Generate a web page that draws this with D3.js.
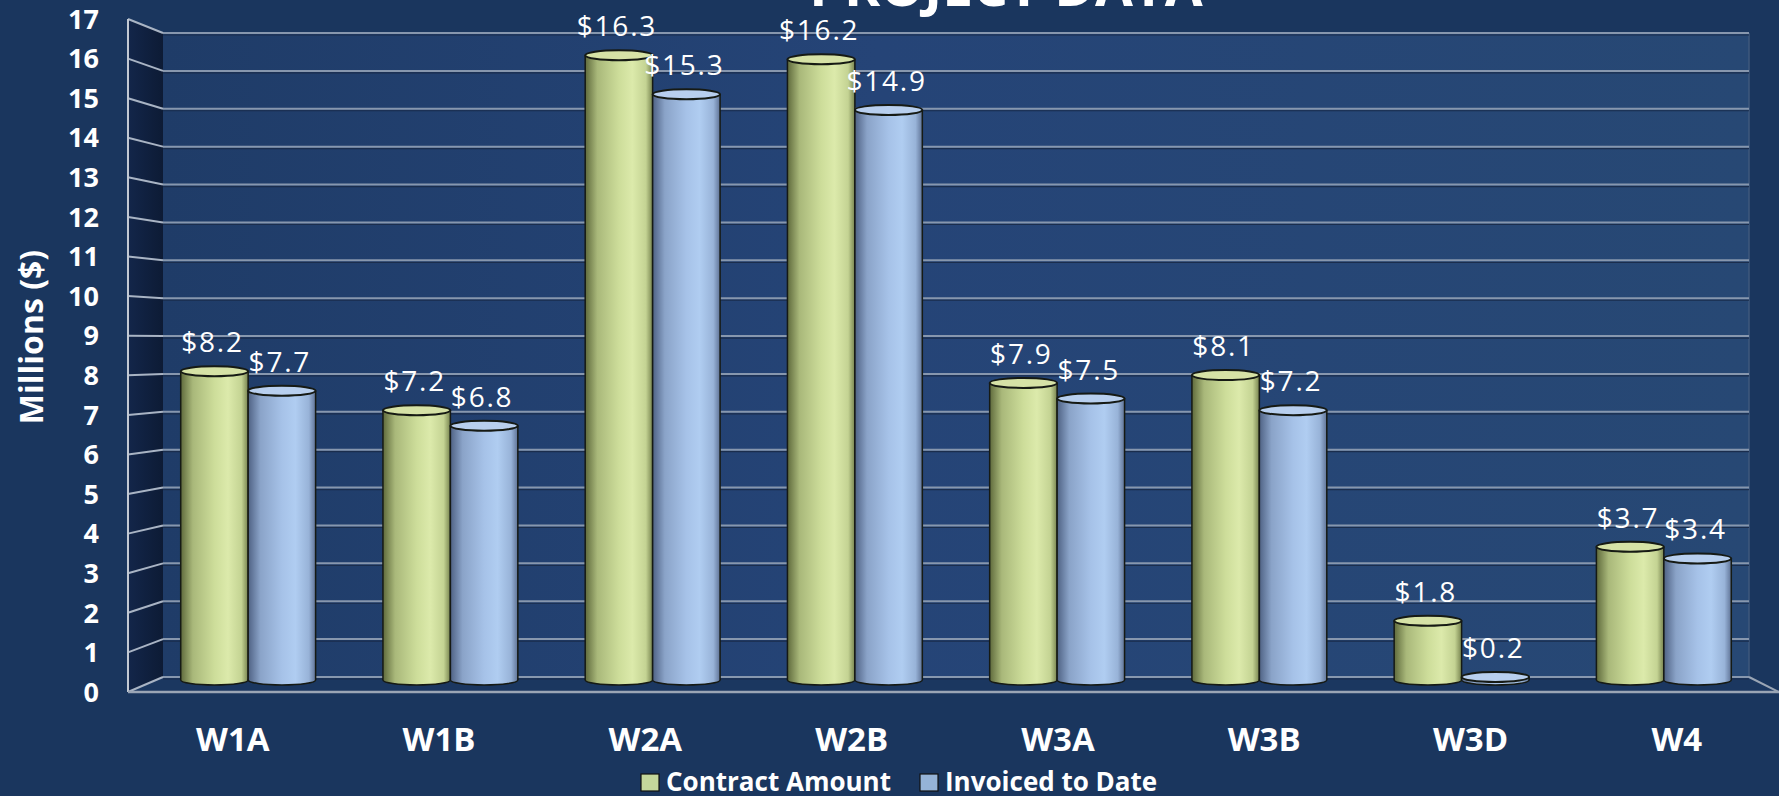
<!DOCTYPE html>
<html>
<head>
<meta charset="utf-8">
<script src="https://cdn.jsdelivr.net/npm/d3@7"></script>
<style>
  html, body { margin: 0; padding: 0; background: #1a365e; }
  svg { display: block; }
  text { font-family: "Open Sans", "Noto Sans", sans-serif; fill: #ffffff; }
</style>
</head>
<body>
<svg id="chart" width="1779" height="796"></svg>
<script>
// data
const categories = ["W1A", "W1B", "W2A", "W2B", "W3A", "W3B", "W3D", "W4"];
const contractAmount = [8.2, 7.2, 16.3, 16.2, 7.9, 8.1, 1.8, 3.7];
const invoicedToDate = [7.7, 6.8, 15.3, 14.9, 7.5, 7.2, 0.2, 3.4];
const seriesNames = ["Contract Amount", "Invoiced to Date"];
const yTicks = d3.range(0, 18);

const width = 1779, height = 796;
const svg = d3.select("#chart");

// 3d box: back wall, left wall, floor
const wall = {left: 163, right: 1749};
const front = {left: 128, right: 1779};

const yBack = d3.scaleLinear().domain([0, 17]).range([677, 33]);
const yFront = d3.scaleLinear().domain([0, 17]).range([692, 19]);
const yBar = d3.scaleLinear().domain([0, 17]).range([686, 23]);   // top edge of cylinders
const barBottom = 680, ry = 5;

const x0 = d3.scaleBand().domain(categories)
  .range([147, 1765]).paddingInner(0.333).paddingOuter(0.1667);
const x1 = d3.scaleBand().domain([0, 1]).range([0, x0.bandwidth()]);

// perspective used for the labels on the front edge
const vx = 1017, k = 1.02;
const frontX = d => vx + (d - vx) * k;

const defs = svg.append("defs");

const wallGrad = defs.append("linearGradient").attr("id", "wallGrad");
wallGrad.append("stop").attr("offset", "0%").attr("stop-color", "#1f3c68");
wallGrad.append("stop").attr("offset", "45%").attr("stop-color", "#254477");
wallGrad.append("stop").attr("offset", "100%").attr("stop-color", "#274874");

const sideGrad = defs.append("linearGradient").attr("id", "sideGrad");
sideGrad.append("stop").attr("offset", "0%").attr("stop-color", "#13264a");
sideGrad.append("stop").attr("offset", "100%").attr("stop-color", "#0d1b35");

const barColors = [
  {id: "g0", stops: ["#5f6a3c", "#a9b87a", "#cddd9a", "#dceaab", "#c4d393", "#77834f"], top: "#d6e2a6", legend: "#c4d79b"},
  {id: "g1", stops: ["#4f6284", "#8aa3c8", "#a6c2e8", "#b0cdf1", "#98b3d8", "#5f7396"], top: "#b8cfee", legend: "#95b3d7"}
];
barColors.forEach(c => {
  const g = defs.append("linearGradient").attr("id", c.id);
  const offs = [0, 0.18, 0.5, 0.7, 0.9, 1];
  c.stops.forEach((s, i) => g.append("stop").attr("offset", offs[i]).attr("stop-color", s));
});

// background
svg.append("rect").attr("width", width).attr("height", height).attr("fill", "#1a365e");

// back wall
svg.append("rect")
  .attr("x", wall.left).attr("y", yBack(17))
  .attr("width", wall.right - wall.left).attr("height", yBack(0) - yBack(17))
  .attr("fill", "url(#wallGrad)");
svg.append("line")
  .attr("x1", wall.right).attr("x2", wall.right)
  .attr("y1", yBack(17)).attr("y2", yBack(0))
  .attr("stroke", "#3f587c").attr("stroke-width", 1.5);

// left wall
svg.append("path")
  .attr("d", `M${front.left},${yFront(17)}L${wall.left},${yBack(17)}L${wall.left},${yBack(0)}L${front.left},${yFront(0)}Z`)
  .attr("fill", "url(#sideGrad)");

// floor
svg.append("path")
  .attr("d", `M${front.left},${yFront(0)}L${wall.left},${yBack(0)}L${wall.right},${yBack(0)}L${front.right},${yFront(0)}Z`)
  .attr("fill", "#1b3760");

// gridlines
const grid = svg.append("g");
grid.selectAll("line.shadow").data(yTicks).enter().append("line")
  .attr("class", "shadow")
  .attr("x1", wall.left).attr("x2", wall.right)
  .attr("y1", d => yBack(d) + 2).attr("y2", d => yBack(d) + 2)
  .attr("stroke", "#1a2d4d").attr("stroke-width", 1.2);
grid.selectAll("line.back").data(yTicks).enter().append("line")
  .attr("class", "back")
  .attr("x1", wall.left).attr("x2", wall.right)
  .attr("y1", d => yBack(d)).attr("y2", d => yBack(d))
  .attr("stroke", "#8797ae").attr("stroke-width", 2);
grid.selectAll("line.side").data(yTicks).enter().append("line")
  .attr("class", "side")
  .attr("x1", front.left).attr("x2", wall.left)
  .attr("y1", d => yFront(d)).attr("y2", d => yBack(d))
  .attr("stroke", "#a9b4c4").attr("stroke-width", 2);

// front edges
svg.append("line")
  .attr("x1", front.left).attr("x2", front.left)
  .attr("y1", yFront(17)).attr("y2", yFront(0))
  .attr("stroke", "#c2c9d3").attr("stroke-width", 2);
svg.append("line")
  .attr("x1", front.left).attr("x2", front.right)
  .attr("y1", yFront(0)).attr("y2", yFront(0))
  .attr("stroke", "#9aa5b5").attr("stroke-width", 2.5);
svg.append("line")
  .attr("x1", wall.right).attr("x2", front.right)
  .attr("y1", yBack(0)).attr("y2", yFront(0))
  .attr("stroke", "#9aa5b5").attr("stroke-width", 2);

// bars (cylinders)
const barData = [];
categories.forEach((c, i) => {
  [contractAmount[i], invoicedToDate[i]].forEach((v, s) => {
    barData.push({cat: c, s: s, v: v});
  });
});

const bars = svg.append("g").selectAll("g").data(barData).enter().append("g")
  .attr("transform", d => `translate(${x0(d.cat) + x1(d.s)},0)`);

const bw = x1.bandwidth();
const topC = d => Math.min(yBar(d.v) + ry, barBottom - 3);

bars.append("ellipse")
  .attr("cx", bw / 2).attr("cy", barBottom).attr("rx", bw / 2).attr("ry", ry)
  .attr("fill", d => `url(#g${d.s})`)
  .attr("stroke", "#161a14").attr("stroke-width", 1.5);
bars.append("rect")
  .attr("x", 0).attr("width", bw)
  .attr("y", d => topC(d)).attr("height", d => Math.max(0, barBottom - topC(d)))
  .attr("fill", d => `url(#g${d.s})`);
bars.append("path")
  .attr("d", d => `M0,${topC(d)}V${barBottom}M${bw},${topC(d)}V${barBottom}`)
  .attr("stroke", "#161a14").attr("stroke-width", 1.5).attr("fill", "none");
bars.append("ellipse")
  .attr("cx", bw / 2).attr("cy", d => topC(d)).attr("rx", bw / 2).attr("ry", ry)
  .attr("fill", d => barColors[d.s].top)
  .attr("stroke", "#161a14").attr("stroke-width", 2);

// value labels
bars.append("text")
  .attr("x", bw / 2 - 2)
  .attr("y", d => topC(d) - ry - 14)
  .attr("text-anchor", "middle")
  .style("font-size", "28px")
  .style("letter-spacing", "1.8px")
  .text(d => "$" + d.v.toFixed(1));

// y tick labels
svg.append("g").selectAll("text").data(yTicks).enter().append("text")
  .attr("x", 99).attr("y", d => yFront(d)).attr("dy", "0.36em")
  .attr("text-anchor", "end")
  .style("font-size", "27px").style("font-weight", 700)
  .text(d => d);

// y title
svg.append("text")
  .attr("transform", "translate(31,337) rotate(-90)")
  .attr("dy", "0.36em")
  .attr("text-anchor", "middle")
  .style("font-size", "32px").style("font-weight", 700)
  .text("Millions ($)");

// category labels
svg.append("g").selectAll("text").data(categories).enter().append("text")
  .attr("x", d => frontX(x0(d) + x0.bandwidth() / 2))
  .attr("y", 751)
  .attr("text-anchor", "middle")
  .style("font-size", "33px").style("font-weight", 700)
  .text(d => d);

// title (cut off at the top)
svg.append("text")
  .attr("x", 1006).attr("y", 6)
  .attr("text-anchor", "middle")
  .style("font-size", "55px").style("font-weight", 700)
  .text("PROJECT DATA");

// legend
const legendX = [641, 920];
const legend = svg.append("g").selectAll("g").data(seriesNames).enter().append("g")
  .attr("transform", (d, i) => `translate(${legendX[i]},774)`);
legend.append("rect")
  .attr("width", 18).attr("height", 17)
  .attr("fill", (d, i) => barColors[i].legend)
  .attr("stroke", "#111").attr("stroke-width", 1.2);
legend.append("text")
  .attr("x", 25).attr("y", 17)
  .style("font-size", "26px").style("font-weight", 700)
  .text(d => d);
</script>
</body>
</html>
